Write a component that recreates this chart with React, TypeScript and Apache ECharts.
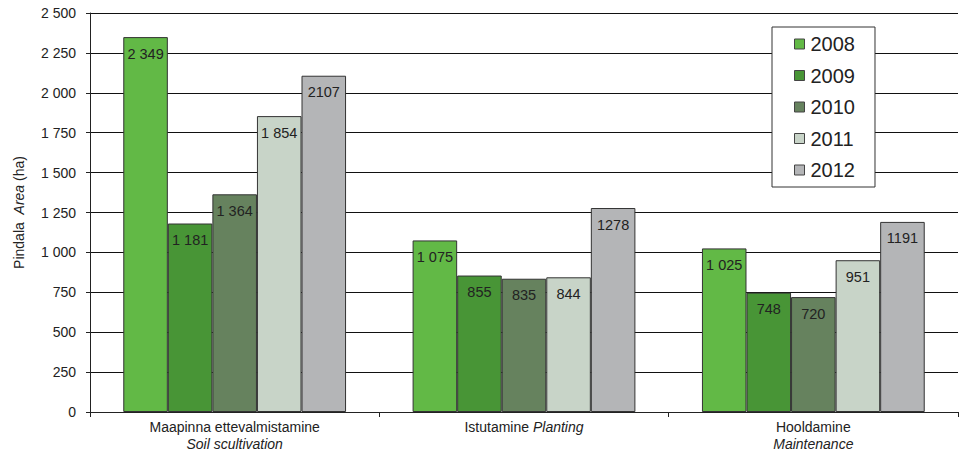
import React, { useEffect, useRef } from "react";
import * as echarts from "echarts";

const categories = [
  "{n|Maapinna ettevalmistamine}\n{i|Soil scultivation}",
  "{n|Istutamine }{i|Planting}",
  "{n|Hooldamine}\n{i|Maintenance}",
];
const years = ["2008", "2009", "2010", "2011", "2012"];
const values = [
  [2349, 1075, 1025],
  [1181, 855, 748],
  [1364, 835, 720],
  [1854, 844, 951],
  [2107, 1278, 1191],
];
const valueLabels = [
  ["2 349", "1 075", "1 025"],
  ["1 181", "855", "748"],
  ["1 364", "835", "720"],
  ["1 854", "844", "951"],
  ["2107", "1278", "1191"],
];
const colors = ["#62b946", "#489536", "#66825e", "#c8d4c8", "#b4b5b7"];
const yTicks = { min: 0, max: 2500, interval: 250 };

const fmt = (v: number) =>
  String(v).replace(/\B(?=(\d{3})+(?!\d))/g, " ");

export default function App() {
  const ref = useRef<HTMLDivElement>(null);
  useEffect(() => {
    document.body.style.margin = "0";
    const chart = echarts.init(ref.current!, undefined, { renderer: "svg" });
    const font = "Liberation Sans, Arial, sans-serif";
    chart.setOption({
      animation: false,
      textStyle: { fontFamily: font },
      grid: { left: 90, right: 1, top: 13, bottom: 47 },
      legend: {
        orient: "vertical",
        left: 772,
        top: 27,
        width: 108,
        padding: [7, 20, 7, 22],
        itemGap: 11.5,
        itemWidth: 10,
        itemHeight: 10,
        icon: "rect",
        borderColor: "#333",
        borderWidth: 1,
        backgroundColor: "#fff",
        textStyle: { fontSize: 20, color: "#222", fontFamily: font, padding: [0, 0, 0, 1] },
        data: years.map((y) => ({ name: y, itemStyle: { borderColor: "#444", borderWidth: 1 } })),
      },
      xAxis: {
        type: "category",
        data: categories,
        axisLine: { lineStyle: { color: "#222", width: 1 } },
        axisTick: { show: true, length: 5, lineStyle: { color: "#222" } },
        axisLabel: {
          margin: 6,
          color: "#222",
          lineHeight: 17,
          rich: {
            n: { fontSize: 14, color: "#222", fontFamily: font, lineHeight: 17 },
            i: { fontSize: 14, color: "#222", fontStyle: "italic", fontFamily: font, lineHeight: 17 },
          },
        },
      },
      yAxis: {
        type: "value",
        min: yTicks.min,
        max: yTicks.max,
        interval: yTicks.interval,
        name: "{n|Pindala  }{i|Area}{n| (ha)}",
        nameLocation: "middle",
        nameGap: 64,
        nameTextStyle: {
          color: "#222",
          fontSize: 14,
          fontFamily: font,
          rich: {
            n: { fontSize: 14, color: "#222", fontFamily: font },
            i: { fontSize: 14, color: "#222", fontStyle: "italic", fontFamily: font },
          },
        },
        axisLine: { show: true, lineStyle: { color: "#222" } },
        axisTick: { show: true, length: 4, lineStyle: { color: "#222" } },
        axisLabel: { formatter: fmt, color: "#222", fontSize: 14, margin: 14 },
        splitLine: { lineStyle: { color: "#111", width: 1 } },
      },
      series: years.map((y, si) => ({
        name: y,
        type: "bar",
        data: values[si],
        barGap: "0%",
        barCategoryGap: "23%",
        itemStyle: { color: colors[si], borderColor: "#333", borderWidth: 1 },
        label: {
          show: true,
          position: "insideTop",
          distance: 9,
          fontSize: 14.5,
          color: "#222",
          formatter: (p: any) => valueLabels[si][p.dataIndex],
        },
      })),
    });
    return () => chart.dispose();
  }, []);
  return <div ref={ref} style={{ width: 959, height: 459 }} />;
}
